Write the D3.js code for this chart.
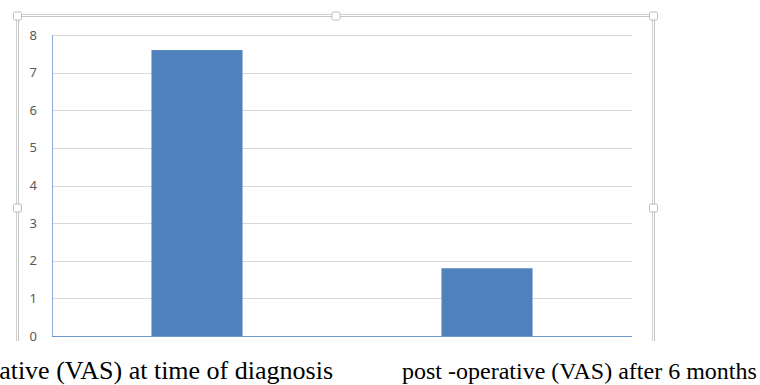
<html>
<head>
<script src="https://d3js.org/d3.v7.min.js"></script>
<style>
  body { margin: 0; background: #fff; }
  .tick-label { font-family: "Noto Sans", "DejaVu Sans", sans-serif; font-size: 13px; fill: #595959; }
  .cat-label { font-family: "Liberation Serif", "Times New Roman", serif; font-size: 24px; fill: #000; }
</style>
</head>
<body>
<script>
// data
var categories = ["pre-operative (VAS) at time of diagnosis", "post -operative (VAS) after 6 months"];
var values = [7.6, 1.8];
var yTicks = [0, 1, 2, 3, 4, 5, 6, 7, 8];

var W = 760, H = 385;
var plot = { left: 52, right: 632, top: 35, bottom: 336 };

var svg = d3.select("body").append("svg").attr("width", W).attr("height", H);

var x = d3.scaleBand().domain(categories)
  .range([plot.left, plot.right])
  .paddingInner(0.686).paddingOuter(0.343);

var y = d3.scaleLinear().domain([0, 8]).range([plot.bottom, plot.top]);

// selection frame (chart object border)
var frame = svg.append("g");
function dbl(x1, y1, x2, y2) {
  var dx = (x1 == x2) ? 1 : 0, dy = (y1 == y2) ? 1 : 0;
  frame.append("line").attr("x1", x1 - dx).attr("x2", x2 - dx).attr("y1", y1 - dy).attr("y2", y2 - dy)
    .attr("stroke", "#d0d0d0").attr("stroke-width", 1);
  frame.append("line").attr("x1", x1 + dx).attr("x2", x2 + dx).attr("y1", y1 + dy).attr("y2", y2 + dy)
    .attr("stroke", "#c4c4c4").attr("stroke-width", 1);
}
dbl(17, 15.5, 654, 15.5);
dbl(17.5, 15, 17.5, 341);
dbl(653.5, 15, 653.5, 341);
[[17.5, 16], [336, 16], [653.5, 16], [17.5, 208], [653.5, 208]].forEach(function (p) {
  frame.append("rect").attr("x", p[0] - 4).attr("y", p[1] - 4).attr("width", 8).attr("height", 8)
    .attr("rx", 1.5).attr("fill", "#fff").attr("stroke", "#bdbdbd");
});

// gridlines
svg.append("g").selectAll("line").data(yTicks.filter(function (d) { return d > 0; })).enter()
  .append("line")
  .attr("x1", plot.left).attr("x2", plot.right)
  .attr("y1", function (d) { return Math.round(y(d)) + 0.5; })
  .attr("y2", function (d) { return Math.round(y(d)) + 0.5; })
  .attr("stroke", "#d9d9d9").attr("stroke-width", 1);

// y tick labels
svg.append("g").selectAll("text").data(yTicks).enter()
  .append("text").attr("class", "tick-label")
  .attr("x", 37).attr("y", function (d) { return y(d); })
  .attr("dy", "0.35em").attr("text-anchor", "end")
  .text(function (d) { return d; });

// bars
svg.append("g").selectAll("rect").data(values).enter()
  .append("rect")
  .attr("x", function (d, i) { return x(categories[i]); })
  .attr("y", function (d) { return y(d); })
  .attr("width", x.bandwidth())
  .attr("height", function (d) { return y(0) - y(d); })
  .attr("fill", "#4f81bd");

// axes lines
svg.append("line").attr("x1", plot.left + 0.5).attr("x2", plot.left + 0.5)
  .attr("y1", plot.top).attr("y2", plot.bottom + 1)
  .attr("stroke", "#8eaadb").attr("stroke-width", 1);
svg.append("line").attr("x1", plot.left).attr("x2", plot.right)
  .attr("y1", plot.bottom + 0.5).attr("y2", plot.bottom + 0.5)
  .attr("stroke", "#6f95cc").attr("stroke-width", 1);

// category labels below the chart
svg.append("text").attr("class", "cat-label")
  .attr("x", 333).attr("y", 379).attr("text-anchor", "end")
  .style("font-size", "26px").text(categories[0]);
svg.append("text").attr("class", "cat-label")
  .attr("x", 402).attr("y", 379).attr("text-anchor", "start").text(categories[1]);
</script>
</body>
</html>
